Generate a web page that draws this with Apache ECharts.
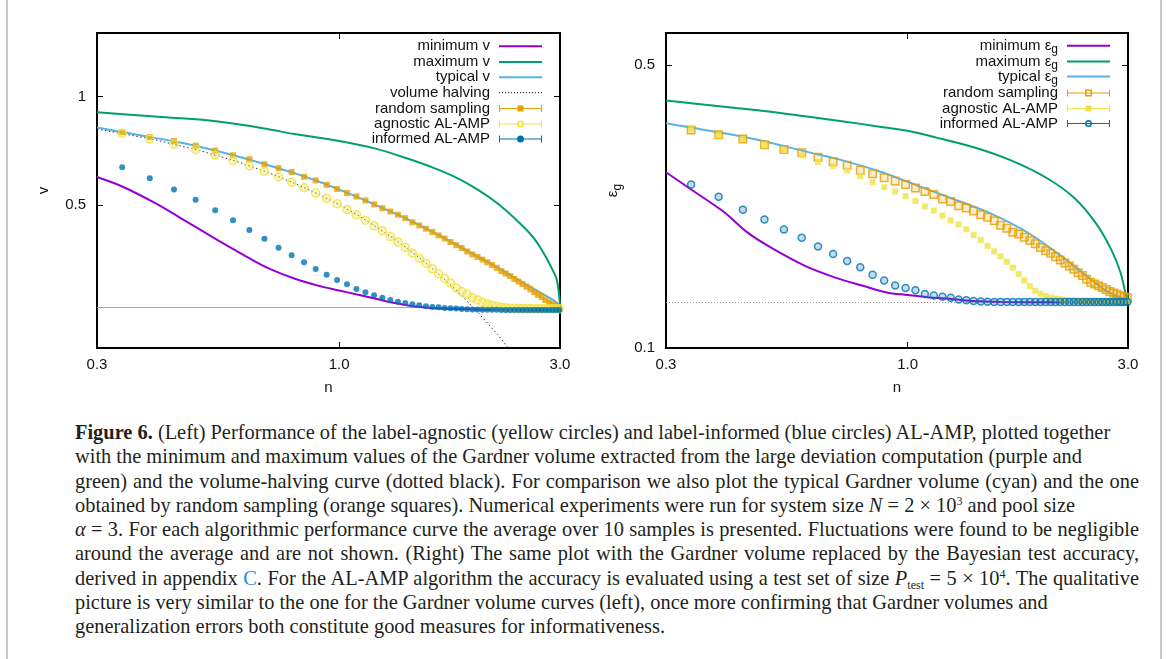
<!DOCTYPE html>
<html><head><meta charset="utf-8">
<script src="https://cdn.jsdelivr.net/npm/echarts@6.0.0/dist/echarts.min.js"></script>
<style>
html,body{margin:0;padding:0;background:#fff;width:1167px;height:659px;overflow:hidden;}
#chart{position:absolute;left:0;top:0;width:1167px;height:400px;}
#frame{position:absolute;left:6px;top:0;width:1156px;height:659px;border-left:2px solid #c8c8c8;border-right:2px solid #c8c8c8;box-sizing:border-box;}
#cap{position:absolute;left:75px;top:420px;width:1064px;font-family:'Liberation Serif','Times New Roman',serif;font-size:20.4px;color:#231f20;}
#cap div{white-space:nowrap;height:24.3px;line-height:24.3px;}
#cap .j{text-align:justify;text-align-last:justify;}
#cap .c{color:#1a8fd0;}
#cap .sup{position:relative;top:-7px;font-size:12px;}
#cap .sub{position:relative;top:4px;font-size:12px;}
</style></head>
<body>
<div id="frame"></div>
<div id="chart"></div>
<div id="cap">
<div><b>Figure 6.</b> (Left) Performance of the label-agnostic (yellow circles) and label-informed (blue circles) AL-AMP, plotted together</div>
<div>with the minimum and maximum values of the Gardner volume extracted from the large deviation computation (purple and</div>
<div class="j">green) and the volume-halving curve (dotted black). For comparison we also plot the typical Gardner volume (cyan) and the one</div>
<div>obtained by random sampling (orange squares). Numerical experiments were run for system size <i>N</i> = 2 × 10<span class="sup">3</span> and pool size</div>
<div class="j"><i>α</i> = 3. For each algorithmic performance curve the average over 10 samples is presented. Fluctuations were found to be negligible</div>
<div class="j">around the average and are not shown. (Right) The same plot with the Gardner volume replaced by the Bayesian test accuracy,</div>
<div class="j">derived in appendix <span class="c">C</span>. For the AL-AMP algorithm the accuracy is evaluated using a test set of size <i>P</i><span class="sub">test</span> = 5 × 10<span class="sup">4</span>. The qualitative</div>
<div>picture is very similar to the one for the Gardner volume curves (left), once more confirming that Gardner volumes and</div>
<div>generalization errors both constitute good measures for informativeness.</div>
</div>
<script>
// ---------------- data ----------------
const nSamples = [0.34,0.39,0.44,0.49,0.54,0.59,0.64,0.69,0.74,0.79,0.84,0.89,0.94,0.99,1.04,1.09,1.14,1.19,1.24,1.29,1.34,1.39,1.44,1.49,1.54,1.59,1.64,1.69,1.74,1.79,1.84,1.89,1.94,1.99,2.04,2.09,2.14,2.19,2.24,2.29,2.34,2.39,2.44,2.49,2.54,2.59,2.64,2.69,2.74,2.79,2.84,2.89,2.94,2.99];

// Left panel: Gardner volume v
const leftRandom = [0.796,0.771,0.752,0.730,0.707,0.686,0.669,0.648,0.632,0.616,0.598,0.584,0.568,0.553,0.539,0.527,0.514,0.501,0.489,0.479,0.469,0.459,0.447,0.438,0.429,0.420,0.411,0.403,0.394,0.386,0.379,0.371,0.364,0.358,0.352,0.346,0.340,0.334,0.327,0.322,0.317,0.311,0.306,0.301,0.296,0.291,0.286,0.281,0.277,0.272,0.268,0.265,0.262,0.259];
const leftAgnostic = [0.790,0.761,0.736,0.711,0.687,0.663,0.641,0.619,0.598,0.577,0.558,0.539,0.521,0.503,0.485,0.469,0.453,0.437,0.423,0.408,0.394,0.381,0.367,0.355,0.344,0.332,0.322,0.312,0.303,0.294,0.287,0.282,0.276,0.272,0.268,0.265,0.263,0.261,0.2595,0.2585,0.258,0.2578,0.2576,0.2575,0.2574,0.2573,0.2572,0.2572,0.2571,0.2571,0.257,0.257,0.257,0.257];
const leftInformed = [0.636,0.592,0.551,0.516,0.4825,0.453,0.4255,0.402,0.380,0.362,0.346,0.3316,0.3193,0.3088,0.3005,0.2918,0.2858,0.2804,0.2758,0.2717,0.2689,0.2667,0.2644,0.2628,0.2611,0.2600,0.2595,0.2584,0.2579,0.2573,0.2567,0.2563,0.2560,0.2558,0.2556,0.2555,0.2554,0.2553,0.2552,0.2551,0.2551,0.2551,0.2551,0.255,0.255,0.255,0.255,0.255,0.255,0.255,0.255,0.255,0.255,0.255];
const leftMinN = [0.3,0.34,0.4,0.45,0.5,0.55,0.6,0.65,0.7,0.8,0.9,1.0,1.1,1.2,1.3,1.4,1.5,1.6,1.8,2.0,2.5,3.0];
const leftMinV = [0.597,0.562,0.506,0.463,0.427,0.397,0.372,0.351,0.334,0.312,0.298,0.289,0.281,0.274,0.2675,0.263,0.260,0.258,0.2565,0.2558,0.2556,0.2556];
const leftMaxN = [0.3,0.4,0.5,0.6,0.7,0.8,1.0,1.2,1.4,1.6,1.8,2.0,2.2,2.4,2.6,2.7,2.8,2.9,2.95,2.98,3.0];
const leftMaxV = [0.904,0.879,0.862,0.838,0.812,0.786,0.752,0.716,0.673,0.633,0.593,0.549,0.504,0.457,0.412,0.386,0.357,0.327,0.311,0.288,0.263];
const leftTypN = [0.3,0.35,0.4,0.45,0.5,0.6,0.7,0.8,0.9,1.0,1.1,1.2,1.3,1.4,1.5,1.6,1.7,1.8,1.9,2.0,2.2,2.4,2.6,2.8,2.9,3.0];
const leftTypV = [0.819,0.791,0.767,0.746,0.725,0.683,0.645,0.612,0.581,0.551,0.524,0.499,0.477,0.457,0.437,0.419,0.402,0.386,0.371,0.358,0.335,0.313,0.295,0.279,0.272,0.262];
const halvingN = [0.3,0.4,0.5,0.6,0.7,0.8,0.9,1.0,1.1,1.2,1.3,1.4,1.5,1.6,1.7,1.8,1.9,2.0,2.1,2.2,2.3,2.32];
const halvingV = [0.812,0.758,0.707,0.660,0.616,0.574,0.536,0.500,0.467,0.435,0.406,0.379,0.354,0.330,0.308,0.287,0.268,0.250,0.233,0.218,0.203,0.200];
const leftFloor = 0.2557;

// Right panel: generalization error eps_g
const rightRandom = [0.3458,0.3363,0.3283,0.3176,0.3095,0.3038,0.2960,0.2884,0.2826,0.2749,0.2693,0.2634,0.2585,0.2534,0.2483,0.2436,0.2396,0.2334,0.2300,0.2246,0.2217,0.2181,0.2133,0.2105,0.2062,0.2010,0.1977,0.1933,0.1912,0.1877,0.1843,0.1809,0.1772,0.1739,0.1714,0.1680,0.1649,0.1622,0.1595,0.1566,0.1534,0.1511,0.1478,0.1453,0.1440,0.1425,0.1410,0.1395,0.1380,0.1368,0.1357,0.1347,0.1338,0.1330];
const rightAgnostic = [0.3471,0.3366,0.3283,0.3183,0.3092,0.2990,0.2883,0.2814,0.2743,0.2660,0.2570,0.2497,0.2436,0.2373,0.2308,0.2237,0.2184,0.2124,0.2066,0.2021,0.1965,0.1901,0.1849,0.1788,0.1733,0.1685,0.1633,0.1580,0.1523,0.1468,0.1422,0.1385,0.1362,0.1345,0.1332,0.1325,0.1320,0.1315,0.1312,0.1310,0.1308,0.1307,0.1306,0.1305,0.1304,0.1304,0.1304,0.1304,0.1304,0.1304,0.1304,0.1304,0.1304,0.1304];
const rightInformed = [0.2534,0.2364,0.2197,0.2077,0.1962,0.1873,0.1782,0.1708,0.1640,0.1582,0.1517,0.1468,0.1427,0.1406,0.1388,0.1360,0.1348,0.1338,0.1330,0.1318,0.1313,0.1306,0.1303,0.1301,0.1300,0.1300,0.1300,0.1300,0.1300,0.1300,0.1300,0.1300,0.1300,0.1300,0.1300,0.1300,0.1300,0.1300,0.1300,0.1300,0.1300,0.1300,0.1300,0.1300,0.1300,0.1300,0.1300,0.1300,0.1300,0.1300,0.1300,0.1300,0.1300,0.1300];
const rightMinN = [0.3,0.34,0.4,0.45,0.5,0.6,0.7,0.8,0.9,1.0,1.1,1.26,1.39,1.6,2.0,3.0];
const rightMinE = [0.2718,0.2464,0.2170,0.1930,0.1785,0.1595,0.1490,0.1425,0.1372,0.1352,0.1335,0.1320,0.1306,0.1300,0.1297,0.1296];
const rightMaxN = [0.3,0.34,0.41,0.5,0.6,0.72,0.87,1.0,1.15,1.39,1.67,2.0,2.29,2.56,2.76,2.89,2.97,3.0];
const rightMaxE = [0.4085,0.4026,0.3935,0.3841,0.3736,0.3634,0.3522,0.3439,0.3314,0.3133,0.2911,0.2630,0.2353,0.2029,0.1750,0.1537,0.1350,0.1300];
const rightTypN = [0.3,0.34,0.41,0.5,0.6,0.72,0.87,1.05,1.26,1.52,1.83,2.2,2.65,2.9,3.0];
const rightTypE = [0.3589,0.3503,0.3376,0.3223,0.3060,0.2911,0.2729,0.2520,0.2331,0.2145,0.1920,0.1655,0.1401,0.1330,0.1300];
const rightFloor = 0.1296;

// axes / ticks
const xTicks = [0.3, 1.0, 3.0];
const xTickLabels = ['0.3', '1.0', '3.0'];
const leftYTicks = [0.5, 1];
const leftYTickLabels = ['0.5', '1'];
const rightYTicks = [0.1, 0.5];
const rightYTickLabels = ['0.1', '0.5'];
const leftYRange = [0.2, 1.5];
const rightYRange = [0.1, 0.6];
const xRange = [0.3, 3.0];

// ---------------- chart ----------------
const C = {purple:'#9400d3', green:'#009e73', cyan:'#56b4e9', orange:'#e69f00', yellow:'#f0e442', blue:'#0072b2'};
const FONT = "'Liberation Sans', Arial, sans-serif";
const pairs = (xs, ys) => xs.map((x, i) => [x, ys[i]]);
const fmt = (ticks, labels) => v => {
  for (let i = 0; i < ticks.length; i++) if (Math.abs(v - ticks[i]) / ticks[i] < 1e-4) return labels[i];
  return '';
};

function xAx(grid, pos, show) {
  return {
    gridIndex: grid, type: 'log', min: xRange[0], max: xRange[1], position: pos,
    axisLine: {show: false},
    axisTick: {show: true, inside: true, length: 6, customValues: xTicks, lineStyle: {color: '#000', width: 1}},
    axisLabel: {show: show, customValues: xTicks, formatter: fmt(xTicks, xTickLabels), margin: 9, fontSize: 15, color: '#111', fontFamily: FONT},
    splitLine: {show: false}, minorTick: {show: false},
    name: show ? 'n' : '', nameLocation: 'middle', nameGap: 32,
    nameTextStyle: {fontSize: 15, color: '#111', fontFamily: FONT}
  };
}
function yAx(grid, pos, show, range, ticks, labels, name, gap) {
  return {
    gridIndex: grid, type: 'log', min: range[0], max: range[1], position: pos,
    axisLine: {show: false},
    axisTick: {show: true, inside: true, length: 6, customValues: ticks, lineStyle: {color: '#000', width: 1}},
    axisLabel: {show: show, customValues: ticks, formatter: fmt(ticks, labels), margin: 11, fontSize: 15, color: '#111', fontFamily: FONT},
    splitLine: {show: false}, minorTick: {show: false},
    name: show ? name : '', nameLocation: 'middle', nameGap: gap,
    nameTextStyle: {fontSize: 15, color: '#111', fontFamily: FONT,
      rich: {e: {fontSize: 15, fontFamily: FONT, color: '#111', lineHeight: 16}, g: {fontSize: 12, fontFamily: FONT, color: '#111', lineHeight: 14, padding: [9, 0, 0, 0]}}}
  };
}

function lineS(name, xi, data, color, extra) {
  return Object.assign({
    name, type: 'line', xAxisIndex: xi, yAxisIndex: xi, data, symbol: 'none', showSymbol: false, smooth: 0.3,
    lineStyle: {color, width: 2}, itemStyle: {color}, z: 2, silent: true
  }, extra || {});
}
function scatS(name, xi, ys, symbol, size, itemStyle, z) {
  return {name, type: 'scatter', xAxisIndex: xi, yAxisIndex: xi, data: pairs(nSamples, ys),
    symbol, symbolSize: size, itemStyle, z: z, silent: true};
}

// legend icons (43 x 9 boxes)
const capLine = 'M0,1h1v3h41v-3h1v7h-1v-3h-41v3h-1z';
let dots = '';
for (let x = 0; x <= 42; x += 3) dots += 'M' + x + ',4h1.2v1.2h-1.2z';
const ICON = {
  line: 'path://M0,0.01h0.01v0.01h-0.01zM0,3.5h43v2h-43zM0,8.99h0.01v0.01h-0.01z',
  dots: 'path://M0,0.01h0.01v0.01h-0.01z' + dots + 'M0,8.99h0.01v0.01h-0.01z',
  sqFill: 'path://' + capLine + 'M18.5,1.5h6v6h-6z',
  sqRing: 'path://' + capLine + 'M18,1h7v7h-7zM19.5,2.5v4h4v-4z',
  ciFill: 'path://' + capLine + 'M25,4.5A3.5,3.5,0,1,1,18,4.5A3.5,3.5,0,1,1,25,4.5z',
  ciRing: 'path://' + capLine + 'M25,4.5A3.5,3.5,0,1,1,18,4.5A3.5,3.5,0,1,1,25,4.5zM23.5,4.5A2,2,0,1,0,19.5,4.5A2,2,0,1,0,23.5,4.5z'
};

const richLeg = {
  a: {fontSize: 15, fontFamily: FONT, color: '#111', lineHeight: 16},
  g: {fontSize: 12, fontFamily: FONT, color: '#111', lineHeight: 16, padding: [8, 0, 0, 0]}
};
function leg(name, top, right, icon, color) {
  const item = {name, icon, itemStyle: {color, borderWidth: 0, opacity: 1}};
  return {
    data: [item], top, right, orient: 'vertical', align: 'right', padding: 0, itemGap: 0,
    itemWidth: 43, itemHeight: 9, selectedMode: false,
    formatter: n => n.endsWith('εg') ? '{a|' + n.slice(0, -1) + '}{g|g}' : '{a|' + n + '}',
    textStyle: {fontFamily: FONT, fontSize: 15, color: '#111', padding: [0, 4, 0, 0], rich: richLeg}
  };
}

const leftLegNames = ['minimum v', 'maximum v', 'typical v', 'volume halving', 'random sampling', 'agnostic AL-AMP', 'informed AL-AMP'];
const leftLegIcons = [ICON.line, ICON.line, ICON.line, ICON.dots, ICON.sqFill, ICON.ciRing, ICON.ciFill];
const leftLegColors = [C.purple, C.green, C.cyan, '#444', C.orange, C.yellow, C.blue];
const leftLegTops = [38.7, 54.4, 69.7, 85, 101, 116.4, 131.4];
const rightLegNames = ['minimum εg', 'maximum εg', 'typical εg', 'random sampling', 'agnostic AL-AMP', 'informed AL-AMP'];
const rightLegIcons = [ICON.line, ICON.line, ICON.line, ICON.sqRing, ICON.sqFill, ICON.ciRing];
const rightLegColors = [C.purple, C.green, C.cyan, C.orange, C.yellow, C.blue];
const rightLegTops = [35.8, 51.5, 66.5, 85.4, 101, 116];

const legends = [];
leftLegNames.forEach((n, i) => legends.push(leg(n, leftLegTops[i], 625, leftLegIcons[i], leftLegColors[i])));
rightLegNames.forEach((n, i) => legends.push(leg(n, rightLegTops[i], 57, rightLegIcons[i], rightLegColors[i])));

const option = {
  animation: false,
  backgroundColor: 'transparent',
  grid: [
    {left: 97, top: 33, width: 463, height: 321, show: true, borderColor: '#000', borderWidth: 2, backgroundColor: 'transparent'},
    {left: 666, top: 33, width: 462, height: 321, show: true, borderColor: '#000', borderWidth: 2, backgroundColor: 'transparent'}
  ],
  xAxis: [xAx(0, 'bottom', true), xAx(0, 'top', false), xAx(1, 'bottom', true), xAx(1, 'top', false)],
  yAxis: [
    yAx(0, 'left', true, leftYRange, leftYTicks, leftYTickLabels, 'v', 46),
    yAx(0, 'right', false, leftYRange, leftYTicks, leftYTickLabels, '', 0),
    yAx(1, 'left', true, rightYRange, rightYTicks, rightYTickLabels, '{e|ε}{g|g}', 45),
    yAx(1, 'right', false, rightYRange, rightYTicks, rightYTickLabels, '', 0)
  ],
  legend: legends,
  series: [
    lineS('minimum v', 0, pairs(leftMinN, leftMinV), C.purple, {
      markLine: {silent: true, symbol: 'none', label: {show: false}, lineStyle: {color: '#a8a8a8', type: 'solid', width: 1}, data: [{yAxis: leftFloor}], z: 1}
    }),
    lineS('maximum v', 0, pairs(leftMaxN, leftMaxV), C.green),
    lineS('typical v', 0, pairs(leftTypN, leftTypV), C.cyan),
    lineS('volume halving', 0, pairs(halvingN, halvingV), '#333', {lineStyle: {color: '#333', width: 1, type: [1.5, 2.5]}, smooth: false}),
    scatS('random sampling', 0, leftRandom, 'rect', 6, {color: C.orange}, 3),
    scatS('agnostic AL-AMP', 0, leftAgnostic, 'circle', 8, {color: 'rgba(240,228,66,0.35)', borderColor: C.yellow, borderWidth: 1.6}, 4),
    scatS('informed AL-AMP', 0, leftInformed, 'circle', 6, {color: C.blue}, 5),

    lineS('minimum εg', 2, pairs(rightMinN, rightMinE), C.purple, {
      markLine: {silent: true, symbol: 'none', label: {show: false}, lineStyle: {color: '#999', type: [1, 2], width: 1}, data: [{yAxis: rightFloor}], z: 1}
    }),
    lineS('maximum εg', 2, pairs(rightMaxN, rightMaxE), C.green),
    lineS('typical εg', 2, pairs(rightTypN, rightTypE), C.cyan),
    scatS('random sampling', 2, rightRandom, 'rect', 7.5, {color: 'rgba(230,159,0,0.25)', borderColor: C.orange, borderWidth: 1.5}, 3),
    scatS('agnostic AL-AMP', 2, rightAgnostic, 'rect', 6, {color: C.yellow}, 4),
    scatS('informed AL-AMP', 2, rightInformed, 'circle', 7, {color: 'rgba(0,114,178,0.3)', borderColor: C.blue, borderWidth: 1.5}, 5)
  ]
};
const chart = echarts.init(document.getElementById('chart'), null, {renderer: 'canvas'});
chart.setOption(option);
</script>
</body></html>
